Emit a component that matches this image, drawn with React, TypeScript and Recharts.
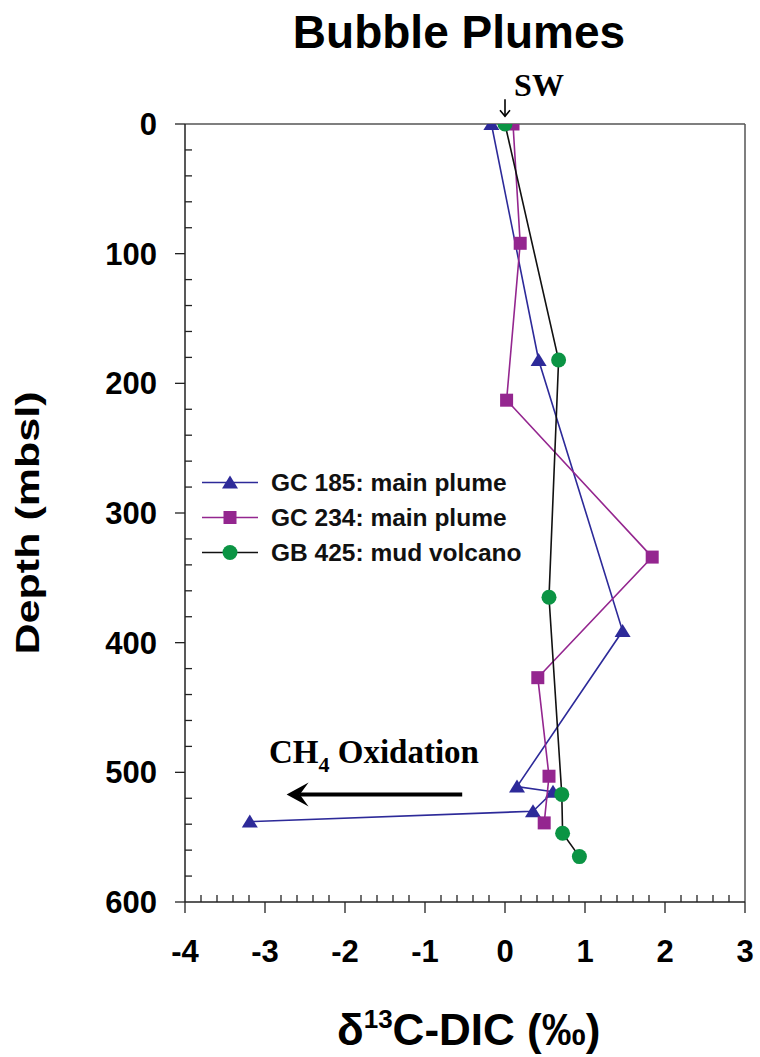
import React from 'react';
import { ScatterChart, Scatter, XAxis, YAxis, ReferenceLine, Legend } from 'recharts';

// delta13C-DIC (permil) against depth (mbsl)
const gc185Delta = [-0.17, 0.42, 1.47, 0.15, 0.6, 0.35, -3.19];
const gc185Depth = [0, 182, 391, 511, 515, 530, 538];
const gc234Delta = [0.1, 0.19, 0.02, 1.84, 0.41, 0.55, 0.49];
const gc234Depth = [0, 92, 213, 334, 427, 503, 539];
const gb425Delta = [0, 0.67, 0.55, 0.71, 0.72, 0.93];
const gb425Depth = [0, 182, 365, 517, 547, 565];

const xMajorTicks = [-4, -3, -2, -1, 0, 1, 2, 3];
const yMajorTicks = [0, 100, 200, 300, 400, 500, 600];

// minor ticks: 0.2 on x, 20 m on y
const xTicks: number[] = [];
for (let i = 0; i <= 35; i++) xTicks.push(Math.round((-4 + i * 0.2) * 10) / 10);
const yTicks: number[] = [];
for (let i = 0; i <= 30; i++) yTicks.push(i * 20);

const toPoints = (d: number[], z: number[]) => d.map((v, i) => ({ delta: v, depth: z[i] }));

const BLUE = '#2D2A99';
const PURPLE = '#94268F';
const GREEN = '#0B9444';
const SANS = '"Liberation Sans", Arial, sans-serif';
const SERIF = '"Liberation Serif", "Times New Roman", serif';

const Triangle = ({ cx, cy }: any) => (
  <polygon points={`${cx},${cy - 7} ${cx - 8},${cy + 6} ${cx + 8},${cy + 6}`} fill={BLUE} />
);
const Square = ({ cx, cy }: any) => <rect x={cx - 6.5} y={cy - 6.5} width={13} height={13} fill={PURPLE} />;
const Dot = ({ cx, cy }: any) => <circle cx={cx} cy={cy} r={7.5} fill={GREEN} />;

const series = [
  { name: 'GC 185: main plume', data: toPoints(gc185Delta, gc185Depth), line: BLUE, Shape: Triangle },
  { name: 'GC 234: main plume', data: toPoints(gc234Delta, gc234Depth), line: PURPLE, Shape: Square },
  { name: 'GB 425: mud volcano', data: toPoints(gb425Delta, gb425Depth), line: '#111', Shape: Dot },
];

const isMajor = (v: number, list: number[]) => list.some((m) => Math.abs(m - v) < 1e-6);

const XTick = ({ x, y, payload }: any) => {
  const v = payload.value;
  if (!isMajor(v, xMajorTicks)) return <line x1={x} x2={x} y1={y} y2={y - 7} stroke="#222" strokeWidth={1.3} />;
  return (
    <g>
      <line x1={x} x2={x} y1={y} y2={y + 11} stroke="#222" strokeWidth={1.3} />
      <text x={x} y={y + 60} textAnchor="middle" fontSize={31} fontWeight="bold" fontFamily={SANS} fill="#000">
        {v}
      </text>
    </g>
  );
};

const YTick = ({ x, y, payload }: any) => {
  const v = payload.value;
  if (!isMajor(v, yMajorTicks)) return <line x1={x} x2={x + 7} y1={y} y2={y} stroke="#222" strokeWidth={1.3} />;
  return (
    <g>
      <line x1={x} x2={x - 10} y1={y} y2={y} stroke="#222" strokeWidth={1.3} />
      <text x={x - 28} y={y + 11} textAnchor="end" fontSize={31} fontWeight="bold" fontFamily={SANS} fill="#000">
        {v}
      </text>
    </g>
  );
};

// arrow drawn along a reference segment, head at the second point
const Arrow = (w: number, head: number, halfW: number, open: boolean) => (p: any) => {
  const { x1, y1, x2, y2 } = p;
  const len = Math.hypot(x2 - x1, y2 - y1) || 1;
  const ux = (x2 - x1) / len;
  const uy = (y2 - y1) / len;
  const bx = x2 - ux * head;
  const by = y2 - uy * head;
  if (open) {
    return (
      <g stroke="#000" strokeWidth={w} fill="none">
        <line x1={x1} y1={y1} x2={x2} y2={y2} />
        <polyline points={`${bx - uy * halfW},${by + ux * halfW} ${x2},${y2} ${bx + uy * halfW},${by - ux * halfW}`} />
      </g>
    );
  }
  const nx = x2 - ux * head * 0.6;
  const ny = y2 - uy * head * 0.6;
  return (
    <g>
      <line x1={x1} y1={y1} x2={nx} y2={ny} stroke="#000" strokeWidth={w} />
      <polygon
        points={`${x2},${y2} ${bx - uy * halfW},${by + ux * halfW} ${nx},${ny} ${bx + uy * halfW},${by - ux * halfW}`}
        fill="#000"
      />
    </g>
  );
};

const LegendBox = () => (
  <div style={{ fontFamily: SANS, fontWeight: 'bold', fontSize: 24.5, color: '#111' }}>
    {series.map((s) => (
      <div key={s.name} style={{ display: 'flex', alignItems: 'center', height: 35 }}>
        <svg width={60} height={35}>
          <line x1={2} x2={58} y1={17.5} y2={17.5} stroke={s.line} strokeWidth={1.6} />
          <s.Shape cx={30} cy={17.5} />
        </svg>
        <span style={{ marginLeft: 11, whiteSpace: 'nowrap' }}>{s.name}</span>
      </div>
    ))}
  </div>
);

export default function App() {
  return (
    <div style={{ position: 'absolute', left: 0, top: 0, width: 760, height: 1057, background: '#fff' }}>
      <ScatterChart width={760} height={1057} margin={{ top: 124, right: 15, bottom: 0, left: 0 }}>
        <XAxis
          type="number"
          dataKey="delta"
          domain={[-4, 3]}
          ticks={xTicks}
          interval={0}
          allowDataOverflow
          height={155}
          tickLine={false}
          tickSize={0}
          tickMargin={0}
          axisLine={{ stroke: '#222', strokeWidth: 1.5 }}
          tick={(p: any) => <XTick {...p} />}
        />
        <YAxis
          type="number"
          dataKey="depth"
          domain={[0, 600]}
          reversed
          ticks={yTicks}
          interval={0}
          allowDataOverflow
          width={185}
          tickLine={false}
          tickSize={0}
          tickMargin={0}
          axisLine={{ stroke: '#222', strokeWidth: 1.5 }}
          tick={(p: any) => <YTick {...p} />}
        />
        <ReferenceLine y={0} stroke="#555" strokeWidth={1.5} />
        <ReferenceLine x={3} stroke="#555" strokeWidth={1.5} />
        <ReferenceLine
          segment={[{ x: -0.535, y: 517 }, { x: -2.73, y: 517 }]}
          shape={Arrow(4, 22, 12, false)}
        />
        <ReferenceLine
          ifOverflow="visible"
          segment={[{ x: 0, y: -19 }, { x: 0, y: -6 }]}
          shape={Arrow(1.6, 6, 5, true)}
        />
        {series.map((s) => (
          <Scatter
            key={s.name}
            name={s.name}
            data={s.data}
            line={{ stroke: s.line, strokeWidth: 1.6 }}
            lineType="joint"
            shape={(p: any) => <s.Shape cx={p.cx} cy={p.cy} />}
            isAnimationActive={false}
          />
        ))}
        <Legend
          layout="vertical"
          align="center"
          verticalAlign="middle"
          wrapperStyle={{ left: 200, top: 465, width: 'auto' }}
          content={() => <LegendBox />}
        />
      </ScatterChart>
      <svg
        width={760}
        height={1057}
        style={{ position: 'absolute', left: 0, top: 0, pointerEvents: 'none' }}
      >
        <text x={459} y={48} textAnchor="middle" fontSize={46} fontWeight="bold" fontFamily={SANS}>
          Bubble Plumes
        </text>
        <text x={539} y={96} textAnchor="middle" fontSize={32} fontWeight="bold" fontFamily={SERIF}>
          SW
        </text>
        <text
          transform="translate(39,523) rotate(-90)"
          textAnchor="middle"
          fontSize={34}
          fontWeight="bold"
          fontFamily={SANS}
          textLength={263}
          lengthAdjust="spacingAndGlyphs"
        >
          Depth (mbsl)
        </text>
        <text x={337} y={1045} fontSize={44} fontWeight="bold" fontFamily={SANS}>
          δ<tspan fontSize={26} dy={-17}>13</tspan>
          <tspan dy={17}>C-DIC (‰)</tspan>
        </text>
        <text x={269} y={763} fontSize={33} fontWeight="bold" fontFamily={SERIF}>
          CH<tspan fontSize={22} dy={9}>4</tspan>
          <tspan dy={-9}> Oxidation</tspan>
        </text>
      </svg>
    </div>
  );
}
